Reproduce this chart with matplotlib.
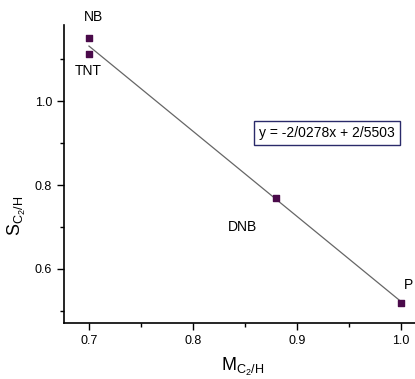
import matplotlib.pyplot as plt
import numpy as np
from matplotlib.ticker import MultipleLocator

plt.rcParams['font.family'] = ['Liberation Sans', 'DejaVu Sans']

# data
names = ["NB", "TNT", "DNB", "P"]
m_vals = [0.70, 0.70, 0.88, 1.00]
s_vals = [1.150, 1.112, 0.769, 0.519]
slope = -2.0278
intercept = 2.5503
equation = "y = -2/0278x + 2/5503"

fig = plt.figure(figsize=(4.15, 3.79), dpi=100)
x0, x1 = 0.676, 1.04
ax = fig.add_axes([64 / 415, 56 / 379, (442.6 - 64) / 415, 298 / 379])

# regression line
xl = np.array([0.70, 1.00])
ax.plot(xl, slope * xl + intercept, color='#666666', lw=0.9, zorder=1)
ax.scatter(m_vals, s_vals, marker='s', s=20, color='#4a0a4a', zorder=2)

# point labels
offsets = {"NB": (0.004, 0.050), "TNT": (-0.001, -0.040),
           "DNB": (-0.032, -0.068), "P": (0.003, 0.043)}
for n, x, y in zip(names, m_vals, s_vals):
    dx, dy = offsets[n]
    ha = 'left' if n == "P" else 'center'
    ax.text(x + dx, y + dy, n, fontsize=10, ha=ha, va='center', clip_on=False)

ax.text(0.929, 0.924, equation, fontsize=10, ha='center', va='center',
        bbox=dict(boxstyle='square,pad=0.35', fc='white', ec='#2a2a6a', lw=1))

ax.set_xlim(x0, x1)
ax.set_ylim(0.4714, 1.181)
ax.xaxis.set_minor_locator(MultipleLocator(0.05))
ax.yaxis.set_minor_locator(MultipleLocator(0.1))
ax.set_xticks([0.7, 0.8, 0.9, 1.0])
ax.set_xticklabels(["0.7", "0.8", "0.9", "1.0"])
ax.set_yticks([0.6, 0.8, 1.0])
ax.set_yticklabels(["0.6", "0.8", "1.0"])
ax.tick_params(which='major', direction='out', length=5, width=1, labelsize=9)
ax.tick_params(which='minor', direction='out', length=3, width=1)
for s in ['top', 'right']:
    ax.spines[s].set_visible(False)
for s in ['left', 'bottom']:
    ax.spines[s].set_linewidth(1.2)

ax.set_xlabel(r'$\mathregular{M_{C_2/H}}$', fontsize=13)
ax.set_ylabel(r'$\mathregular{S_{C_2/H}}$', fontsize=13)
ax.xaxis.set_label_coords((243 - 64) / (442.6 - 64), -0.11)
ax.yaxis.set_label_coords(-0.095, 0.36)

fig.savefig('out.png', dpi=100)
